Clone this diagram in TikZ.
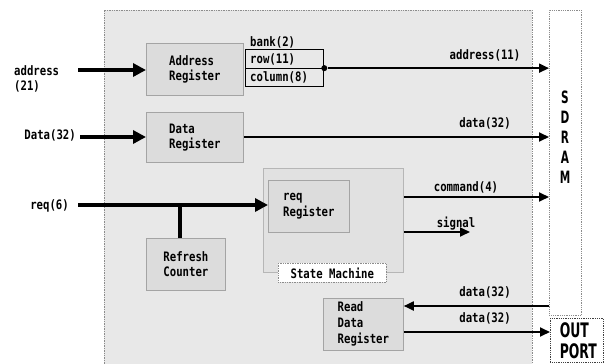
\documentclass[tikz,border=0pt]{standalone}
\usepackage{fontspec}
\usetikzlibrary{arrows.meta}
\newfontfamily\diagfont[FakeStretch=0.82]{DejaVu Sans Mono}
\newfontfamily\bigfont[FakeStretch=0.62]{DejaVu Sans}

\definecolor{bgfill}{HTML}{E8E8E8}
\definecolor{boxfill}{HTML}{DCDCDC}
\definecolor{boxline}{HTML}{A4A4A4}
\definecolor{dotline}{HTML}{8C8C8C}

\tikzset{
  txt/.style={font={\diagfont\bfseries\fontsize{13}{15.5}\selectfont}},
  box/.style={draw=boxline, fill=boxfill, line width=0.8pt, anchor=north west,
              align=left, inner sep=0pt, txt},
  smbox/.style={draw=boxline!80, fill=boxfill!85!white, line width=0.8pt,
                anchor=north west, inner sep=0pt},
  tagbox/.style={draw=dotline, fill=white, densely dotted, line width=0.7pt,
                 anchor=north west, inner sep=0pt, txt},
  whitebox/.style={draw=dotline, fill=white, densely dotted, line width=0.8pt,
                   anchor=north west, inner sep=0pt},
  lbl/.style={txt, inner sep=0pt},
  arr/.style={line width=1.8pt, -{Triangle[length=10pt,width=9pt]}},
  fatarr/.style={line width=3.6pt, -{Triangle[length=13pt,width=13pt]}},
  fatline/.style={line width=3.6pt},
  fieldbox/.style={draw, line width=1.3pt, anchor=north west, inner sep=0pt},
  junction/.style={circle, fill, inner sep=0pt, minimum size=6pt},
}

\begin{document}
\begin{tikzpicture}[x=1pt, y=-1pt]
  \useasboundingbox (0,0) rectangle (608,364);

  % controller area
  \fill[bgfill] (104,10) rectangle (532,364);
  \draw[dotline, densely dotted, line width=0.7pt] (104,364) -- (104,10) -- (532,10) -- (532,364);

  % blocks
  \node[box, minimum width=97pt, minimum height=52pt] (areg) at (146,43) {Address\\Register};
  \node[box, minimum width=97pt, minimum height=50pt] (dreg) at (146,112) {Data\\Register};
  \node[box, minimum width=79pt, minimum height=52pt] (refresh) at (146,238) {Refresh\\Counter};
  \node[smbox, minimum width=140pt, minimum height=104pt] (sm) at (263,168) {};
  \node[box, minimum width=81pt, minimum height=52pt] (reqreg) at (268,180) {req\\Register};
  \node[tagbox, minimum width=108pt, minimum height=19pt] (smtag) at (278,263) {State Machine};
  \node[box, minimum width=80pt, minimum height=52pt, font={\diagfont\bfseries\fontsize{13}{16}\selectfont}] (rdreg) at (323,298) {Read\\Data\\Register};

  % SDRAM and output port
  \node[whitebox, minimum width=32pt, minimum height=305pt] (sdram) at (549,10) {};
  \node[font={\bigfont\bfseries\fontsize{17}{20}\selectfont}, align=center, inner sep=0pt]
    (sdramtxt) at (565,137) {S\\D\\R\\A\\M};
  \node[whitebox, draw=black!75, minimum width=53pt, minimum height=44pt,
        font={\bigfont\bfseries\fontsize{20}{21}\selectfont}, align=left]
    (outport) at (550,318) {\hspace*{3pt}OUT\\\hspace*{3pt}PORT};

  % address fields
  \node[fieldbox, minimum width=78pt, minimum height=37pt] (fields) at (245,49) {};
  \draw[line width=1.3pt] (fields.west) -- (fields.east);
  \node[lbl, anchor=west] (bank) at (250,42) {bank(2)};
  \node[lbl, anchor=west] (row) at (250,59) {row(11)};
  \node[lbl, anchor=west] (column) at (250,77) {column(8)};
  \node[junction] (jn) at (fields.east) {};

  % inputs
  \node[lbl, anchor=west, align=left, font={\diagfont\bfseries\fontsize{13}{14.5}\selectfont}] (addrlbl) at (14,79) {address\\(21)};
  \node[lbl, anchor=east] (datalbl) at (76,135) {Data(32)};
  \node[lbl, anchor=east] (reqlbl) at (69,206) {req(6)};
  \coordinate (addrin) at (78,70);
  \coordinate (datain) at (80,137);
  \coordinate (reqin) at (78,205);
  \coordinate (rfj) at (180,205);
  \draw[fatarr] (addrin) -- (addrin -| areg.west);
  \draw[fatarr] (datain) -- (datain -| dreg.west);
  \draw[fatarr] (reqin) -- (reqin -| reqreg.west);
  \draw[fatline] (rfj) -- (rfj |- refresh.north);

  % outputs to SDRAM
  \draw[arr] (jn) -- (jn -| sdram.west);
  \node[lbl] (addrout) at (485,55) {address(11)};
  \draw[arr] (dreg.east |- datain) -- (datain -| sdram.west);
  \node[lbl] (dataout) at (485,123) {data(32)};
  \coordinate (cmdy) at (0,197);
  \draw[arr] (sm.east |- cmdy) -- (sdram.west |- cmdy);
  \node[lbl] (cmdlbl) at (466,187) {command(4)};
  \coordinate (sigend) at (470,232);
  \draw[arr] (sm.east |- sigend) -- (sigend);
  \node[lbl] (siglbl) at (456,224) {signal};

  % read path
  \coordinate (rdy) at (0,306);
  \draw[arr] (sdram.west |- rdy) -- (rdreg.east |- rdy);
  \node[lbl] (rdlbl) at (485,292) {data(32)};
  \coordinate (outy) at (0,332);
  \draw[arr] (rdreg.east |- outy) -- (outport.west |- outy);
  \node[lbl] (outlbl) at (485,318) {data(32)};
\end{tikzpicture}
\end{document}
